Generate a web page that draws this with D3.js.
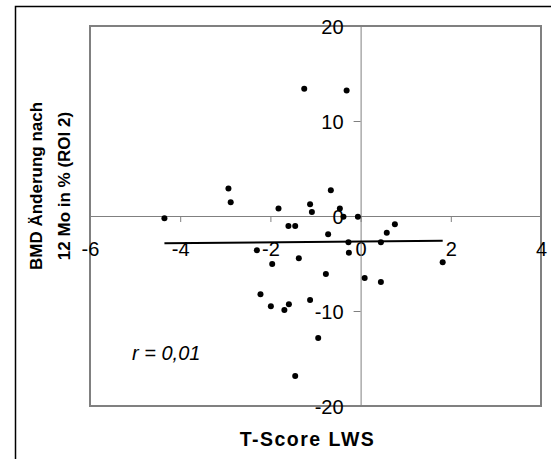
<!DOCTYPE html>
<html>
<head>
<meta charset="utf-8">
<script src="https://cdn.jsdelivr.net/npm/d3@7"></script>
<style>
	body { margin: 0; background: #fff; }
	svg text { font-family: "Liberation Sans", Arial, sans-serif; }
</style>
</head>
<body>
<div id="chart"></div>
<script>
// T-Score LWS values
const tScore = [
	-4.35, -2.93, -2.88, -1.82, -1.60, -1.45, -1.25, -1.12, -1.08, -0.31,
	-0.66, -0.46, -0.38, -0.06, 0.76, -2.30, -1.96, -1.37, -2.22, -1.99,
	-1.69, -1.59, -1.12, -0.94, -1.45, -0.72, 0.58, -0.27, 0.45, -0.26,
	1.82, -0.77, 0.09, 0.45
]
// BMD change after 12 months in % (ROI 2)
const bmdChange = [
	-0.24, 2.9, 1.44, 0.8, -1.05, -1.05, 13.4, 1.23, 0.42, 13.2,
	2.7, 0.8, -0.07, -0.07, -0.88, -3.6, -5.05, -4.45, -8.24, -9.5,
	-9.9, -9.3, -8.84, -12.84, -16.84, -1.93, -1.75, -2.77, -2.77, -3.86,
	-4.87, -6.1, -6.53, -6.95
]
const xTicks = [-6, -4, -2, 0, 2, 4]
const yTicks = [-20, -10, 0, 10, 20]
const xTitle = 'T-Score LWS'
const yTitle = ['BMD Änderung nach', '12 Mo in % (ROI 2)']
const rLabel = 'r = 0,01'

const width = 551
const height = 459
const margin = { top: 26, right: 10, bottom: 53, left: 90 }

const svg = d3.select('#chart')
	.append('svg')
	.attr('width', width)
	.attr('height', height)

// outer frame (right/bottom run off the picture)
svg.append('path')
	.attr('d', `M15.5,${height + 2}V6.5H${width + 2}`)
	.attr('fill', 'none')
	.attr('stroke', '#000')
	.attr('stroke-width', 1.5)

const x = d3.scaleLinear().domain([-6, 4]).range([margin.left, width - margin.right])
const y = d3.scaleLinear().domain([-20, 20]).range([height - margin.bottom, margin.top])

// plot area border
svg.append('rect')
	.attr('x', x(-6))
	.attr('y', y(20))
	.attr('width', x(4) - x(-6))
	.attr('height', y(-20) - y(20))
	.attr('fill', 'none')
	.attr('stroke', '#808080')
	.attr('stroke-width', 2)

// x axis through y = 0
const xAxis = svg.append('g')
	.attr('transform', `translate(0,${y(0)})`)
	.call(d3.axisBottom(x).tickValues(xTicks).tickSize(6).tickFormat(d3.format('d')))
xAxis.select('.domain').attr('stroke', '#808080')
xAxis.selectAll('.tick line').attr('stroke', '#808080')
xAxis.selectAll('.tick text')
	.attr('font-size', 20)
	.attr('fill', '#000')
	.attr('dy', 0)
	.attr('y', 40)
	.text(d => d < 0 ? '-' + Math.abs(d) : d)

// y axis through x = 0
const yAxis = svg.append('g')
	.attr('transform', `translate(${x(0)},0)`)
	.call(d3.axisLeft(y).tickValues(yTicks).tickSize(7).tickFormat(d3.format('d')))
yAxis.select('.domain').attr('stroke', '#808080')
yAxis.selectAll('.tick line').attr('stroke', '#808080')
yAxis.selectAll('.tick text')
	.attr('font-size', 20)
	.attr('fill', '#000')
	.attr('x', -17)
	.attr('dy', '0.36em')
	.text(d => d < 0 ? '-' + Math.abs(d) : d)
svg.selectAll('.tick text').attr('font-family', '"Liberation Sans", Arial, sans-serif')

// linear trend line
const data = tScore.map((t, i) => ({ t, b: bmdChange[i] }))
const mx = d3.mean(data, d => d.t)
const my = d3.mean(data, d => d.b)
const slope = d3.sum(data, d => (d.t - mx) * (d.b - my)) / d3.sum(data, d => (d.t - mx) ** 2)
const [t0, t1] = d3.extent(tScore)
svg.append('line')
	.attr('x1', x(t0))
	.attr('y1', y(my + slope * (t0 - mx)))
	.attr('x2', x(t1))
	.attr('y2', y(my + slope * (t1 - mx)))
	.attr('stroke', '#000')
	.attr('stroke-width', 2)

// points
svg.append('g')
	.selectAll('circle')
	.data(data)
	.join('circle')
	.attr('cx', d => x(d.t))
	.attr('cy', d => y(d.b))
	.attr('r', 3)
	.attr('fill', '#000')

svg.append('text')
	.attr('x', 132)
	.attr('y', 360)
	.attr('font-size', 20)
	.attr('font-style', 'italic')
	.text(rLabel)

svg.append('text')
	.attr('x', 307.5)
	.attr('y', 446)
	.attr('text-anchor', 'middle')
	.attr('font-size', 19.5)
	.attr('letter-spacing', 1.5)
	.attr('font-weight', 'bold')
	.text(xTitle)

const yt = svg.append('text')
	.attr('transform', 'translate(35,186) rotate(-90)')
	.attr('text-anchor', 'middle')
	.attr('font-size', 17)
	.attr('font-weight', 'bold')
yt.selectAll('tspan')
	.data(yTitle)
	.join('tspan')
	.attr('x', 0)
	.attr('y', (d, i) => 7 + i * 28)
	.text(d => d)
</script>
</body>
</html>
